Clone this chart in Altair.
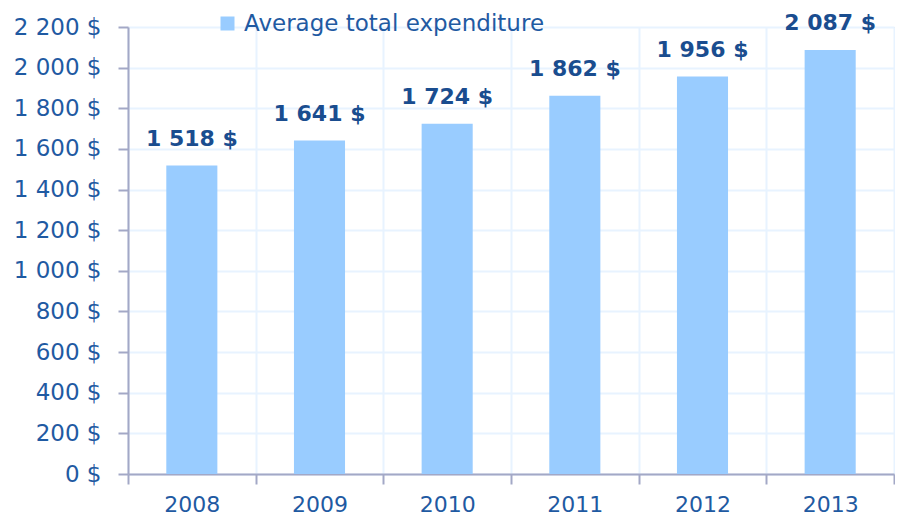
import altair as alt
import pandas as pd

years = ["2008", "2009", "2010", "2011", "2012", "2013"]
values = [1518, 1641, 1724, 1862, 1956, 2087]
series_name = "Average total expenditure"
y_ticks = list(range(0, 2201, 200))


def fmt(v):
    return f"{v:,}".replace(",", " ") + " $"


df = pd.DataFrame({
    "year": years,
    "value": values,
    "label": [fmt(v) for v in values],
    "series": [series_name] * len(years),
})

axis_col = "#A3A8C6"
grid_col = "#E8F3FF"
text_col = "#1F5AA2"
label_col = "#1A4D8F"
bar_col = "#99CCFF"
font = "DejaVu Sans"

x_scale = alt.Scale(paddingInner=0, paddingOuter=0)

x_enc = alt.X(
    "year:N",
    title=None,
    sort=years,
    scale=x_scale,
    axis=alt.Axis(
        labelAngle=0,
        labelFont=font,
        labelFontSize=22,
        labelColor=text_col,
        labelPadding=10,
        tickBand="extent",
        ticks=True,
        tickSize=10,
        tickColor=axis_col,
        tickWidth=2,
        domainColor=axis_col,
        domainWidth=2,
        grid=True,
        gridColor=grid_col,
        gridWidth=2,
    ),
)

y_enc = alt.Y(
    "value:Q",
    title=None,
    scale=alt.Scale(domain=[0, 2200], nice=False),
    axis=alt.Axis(
        values=y_ticks,
        labelExpr="replace(format(datum.value, ','), ',', ' ') + ' $'",
        labelFont=font,
        labelFontSize=23,
        labelColor=text_col,
        labelPadding=17,
        tickSize=10,
        tickColor=axis_col,
        tickWidth=2,
        domainColor=axis_col,
        domainWidth=2,
        grid=True,
        gridColor=grid_col,
        gridWidth=2,
    ),
)

bars = alt.Chart(df).mark_bar(width=alt.RelativeBandSize(0.4)).encode(
    x=x_enc,
    y=y_enc,
    color=alt.Color(
        "series:N",
        scale=alt.Scale(domain=[series_name], range=[bar_col]),
        legend=alt.Legend(
            title=None,
            orient="none",
            legendX=88,
            legendY=-15,
            padding=0,
            symbolType="square",
            symbolSize=196,
            symbolStrokeWidth=0,
            labelFont=font,
            labelFontSize=23,
            labelColor=text_col,
            labelOffset=5,
            labelLimit=0,
        ),
    ),
)

labels = alt.Chart(df).mark_text(
    dy=-15,
    baseline="bottom",
    font=font,
    fontSize=22,
    fontWeight="bold",
    color=label_col,
).encode(
    x=alt.X("year:N", sort=years, scale=x_scale),
    y="value:Q",
    text="label:N",
)

chart = (
    alt.layer(bars, labels)
    .properties(
        width=766,
        height=447,
        autosize=alt.AutoSizeParams(type="none"),
        padding={"left": 120, "top": 19, "right": 1, "bottom": 44},
    )
    .configure_view(stroke=None)
    .configure(background="white")
)

chart.save("out.html", embed_options={"renderer": "svg", "actions": False})
